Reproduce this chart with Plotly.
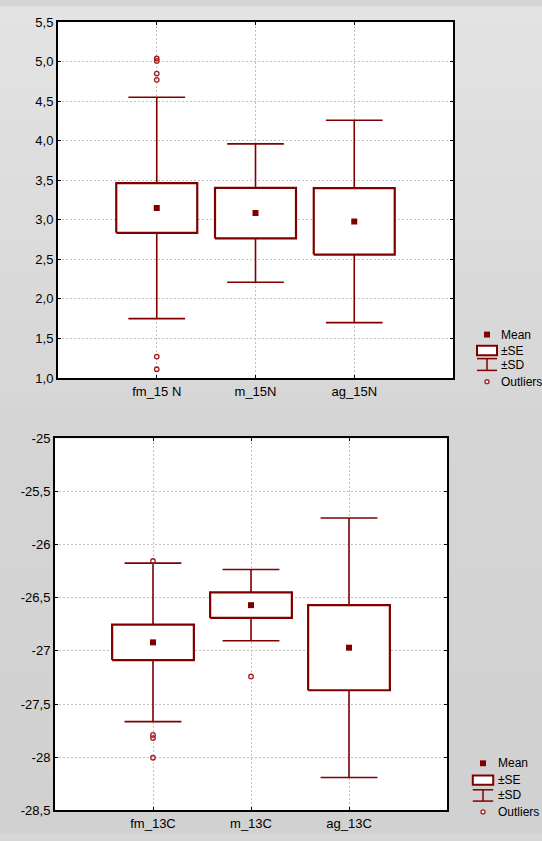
import plotly.graph_objects as go

W, H = 542, 841

# ---- upper panel: nitrogen isotope values ----
cats_n = ["fm_15 N", "m_15N", "ag_15N"]
mean_n = [3.15, 3.085, 2.98]
se_n = [0.315, 0.32, 0.42]
sd_n = [1.40, 0.875, 1.28]
out_n_cat = [0, 0, 0, 0, 0, 0]
out_n_val = [5.04, 5.01, 4.85, 4.77, 1.27, 1.11]
yticks_n = [1.0, 1.5, 2.0, 2.5, 3.0, 3.5, 4.0, 4.5, 5.0, 5.5]

# ---- lower panel: carbon isotope values ----
cats_c = ["fm_13C", "m_13C", "ag_13C"]
mean_c = [-26.92, -26.57, -26.97]
se_c = [0.166, 0.12, 0.40]
sd_c = [0.745, 0.335, 1.22]
out_c_cat = [0, 0, 0, 0, 1]
out_c_val = [-26.155, -27.79, -27.82, -28.005, -27.24]
yticks_c = [-28.5, -28.0, -27.5, -27.0, -26.5, -26.0, -25.5, -25.0]

RED = "#800000"
OUT_RED = "#a41c1c"
FONT = "Liberation Sans, Arial, sans-serif"


def px(x):
    return x / W


def py(y):
    return 1 - y / H


def label(v):
    if float(v).is_integer():
        return str(int(v))
    return f"{v:.1f}".replace(".", ",")


def panel_traces(means, ses, sds, ocat, oval, xa, ya, box_hw, cap_hw):
    traces = []
    # whiskers (mean +/- SD)
    wx, wy = [], []
    for i, (m, s) in enumerate(zip(means, sds)):
        wx += [i, i, None, i - cap_hw, i + cap_hw, None, i - cap_hw, i + cap_hw, None]
        wy += [m - s, m + s, None, m + s, m + s, None, m - s, m - s, None]
    traces.append(go.Scatter(x=wx, y=wy, mode="lines", xaxis=xa, yaxis=ya,
                             line=dict(color=RED, width=1.6), hoverinfo="skip",
                             showlegend=False))
    # boxes (mean +/- SE)
    for i, (m, s) in enumerate(zip(means, ses)):
        traces.append(go.Scatter(
            x=[i - box_hw, i + box_hw, i + box_hw, i - box_hw, i - box_hw],
            y=[m - s, m - s, m + s, m + s, m - s],
            mode="lines", fill="toself", fillcolor="white",
            line=dict(color=RED, width=2.2), xaxis=xa, yaxis=ya,
            hoverinfo="skip", showlegend=False))
    # means
    traces.append(go.Scatter(x=list(range(len(means))), y=means, mode="markers",
                             xaxis=xa, yaxis=ya,
                             marker=dict(symbol="square", size=6, color=RED),
                             showlegend=False))
    # outliers
    traces.append(go.Scatter(x=ocat, y=oval, mode="markers", xaxis=xa, yaxis=ya,
                             marker=dict(symbol="circle-open", size=4.5,
                                         color=OUT_RED, line=dict(width=1.3)),
                             showlegend=False))
    return traces


fig = go.Figure()
for t in panel_traces(mean_n, se_n, sd_n, out_n_cat, out_n_val, "x", "y", 0.41, 0.287):
    fig.add_trace(t)
for t in panel_traces(mean_c, se_c, sd_c, out_c_cat, out_c_val, "x2", "y2", 0.417, 0.29):
    fig.add_trace(t)

# plot-area rectangles in pixels (left, top, right, bottom)
top_box = (58, 15.4, 453, 377.7)
bot_box = (55, 439, 447, 818)

axis_common = dict(showline=True, linecolor="black", linewidth=2, mirror="ticks",
                   ticks="inside", ticklen=3, tickcolor="black", zeroline=False,
                   showgrid=True, gridcolor="#c2c2c2", griddash="2px,2px", gridwidth=1,
                   tickfont=dict(family=FONT, size=13, color="black"))

fig.update_layout(
    xaxis=dict(domain=[px(top_box[0]), px(top_box[2])], range=[-1, 3],
               tickvals=[0, 1, 2], ticktext=cats_n, anchor="y", **axis_common),
    yaxis=dict(domain=[py(top_box[3]), py(top_box[1])], range=[1.0, 5.5],
               tickvals=yticks_n, ticktext=[f"{v:.1f}".replace(".", ",") for v in yticks_n],
               anchor="x", **axis_common),
    xaxis2=dict(domain=[px(bot_box[0]), px(bot_box[2])], range=[-1, 3],
                tickvals=[0, 1, 2], ticktext=cats_c, anchor="y2", **axis_common),
    yaxis2=dict(domain=[py(bot_box[3]), py(bot_box[1])], range=[-28.5, -25.0],
                tickvals=yticks_c, ticktext=[label(v) for v in yticks_c],
                anchor="x2", **axis_common),
)

shapes = []
# soft grey page background, lighter at the top
n_bands = 60
for k in range(n_bands):
    y0 = H * k / n_bands
    y1 = H * (k + 1) / n_bands
    yc = (y0 + y1) / 2
    if yc < 405:
        g = 227 - (227 - 214) * yc / 405
    else:
        g = 213 - (213 - 209) * (yc - 405) / (H - 405)
    g = int(round(g))
    shapes.append(dict(type="rect", xref="paper", yref="paper", layer="below",
                       x0=0, x1=1, y0=py(y1), y1=py(y0) + 0.0005,
                       line=dict(width=0), fillcolor=f"rgb({g},{g},{g})"))
# white plotting areas
for (l, t, r, b) in (top_box, bot_box):
    shapes.append(dict(type="rect", xref="paper", yref="paper", layer="below",
                       x0=px(l), x1=px(r), y0=py(b), y1=py(t),
                       line=dict(width=0), fillcolor="white"))

annotations = []


def legend_block(cx, text_x, y_mean, y_se, y_sd, y_out, se_box, sd_caps, half):
    # mean marker
    shapes.append(dict(type="rect", xref="paper", yref="paper",
                       x0=px(cx - 3), x1=px(cx + 3), y0=py(y_mean + 3), y1=py(y_mean - 3),
                       line=dict(width=0), fillcolor=RED))
    # SE box
    shapes.append(dict(type="rect", xref="paper", yref="paper",
                       x0=px(cx - half), x1=px(cx + half),
                       y0=py(se_box[1]), y1=py(se_box[0]),
                       line=dict(color=RED, width=2), fillcolor="white"))
    # SD whisker symbol
    c0, c1 = sd_caps
    for yy in (c0, c1):
        shapes.append(dict(type="line", xref="paper", yref="paper",
                           x0=px(cx - half), x1=px(cx + half), y0=py(yy), y1=py(yy),
                           line=dict(color=RED, width=1.5)))
    shapes.append(dict(type="line", xref="paper", yref="paper",
                       x0=px(cx), x1=px(cx), y0=py(c0), y1=py(c1),
                       line=dict(color=RED, width=1.5)))
    # outlier symbol
    shapes.append(dict(type="circle", xref="paper", yref="paper",
                       x0=px(cx - 2), x1=px(cx + 2), y0=py(y_out + 2), y1=py(y_out - 2),
                       line=dict(color=OUT_RED, width=1.3), fillcolor="white"))
    for txt, yy in (("Mean", y_mean), ("±SE", y_se), ("±SD", y_sd), ("Outliers", y_out)):
        annotations.append(dict(text=txt, xref="paper", yref="paper",
                                x=px(text_x), y=py(yy), xanchor="left", yanchor="middle",
                                showarrow=False,
                                font=dict(family=FONT, size=12, color="black")))


legend_block(487, 499, 333.5, 350.5, 364, 381.5, (345, 354.5), (358, 370), 10)
legend_block(483, 496, 770, 787, 802, 819.5, (782.5, 792), (797, 808.5), 10.2)

fig.update_layout(
    width=W, height=H,
    margin=dict(l=0, r=0, t=0, b=0),
    paper_bgcolor="#d6d6d6",
    plot_bgcolor="rgba(0,0,0,0)",
    shapes=shapes,
    annotations=annotations,
    showlegend=False,
    font=dict(family=FONT, size=13, color="black"),
)

fig.write_html("out.html")
